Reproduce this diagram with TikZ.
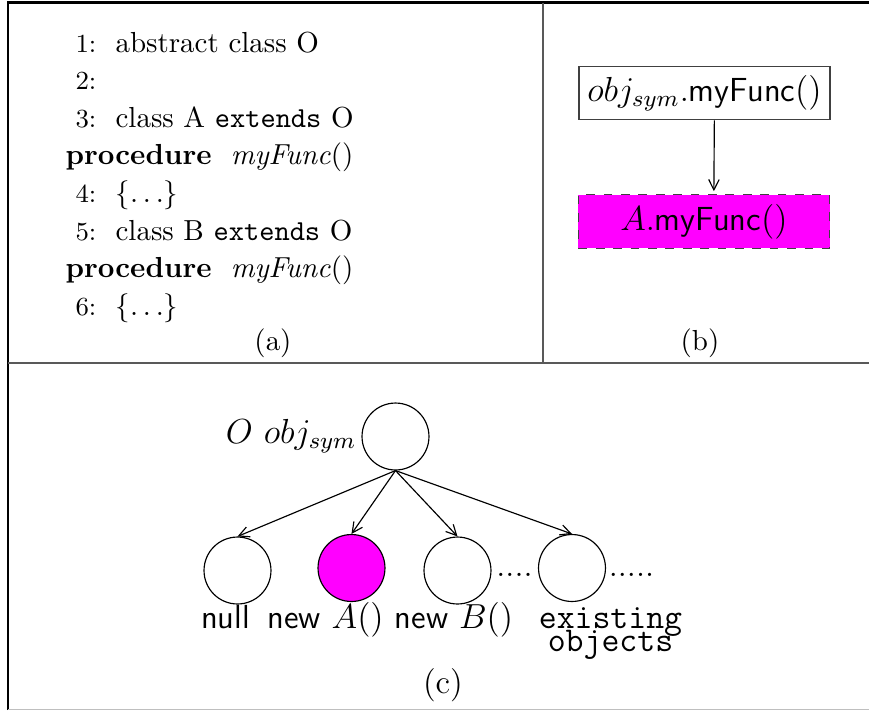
\documentclass[tikz,border=0pt]{standalone}
\usepackage{tikz}
\usetikzlibrary{arrows.meta}
\definecolor{hitmag}{RGB}{255,0,255}

\begin{document}
\begin{tikzpicture}[
        x=0.345pt,y=-0.345pt,
        frame/.style={draw,line width=0.7pt},
        rule/.style={draw,line width=0.6pt,black!65},
        lnum/.style={anchor=base east,inner sep=0pt,font=\small},
        codeln/.style={anchor=base west,inner sep=0pt},
        callbox/.style={draw=black!75,rectangle,minimum width=86.6pt,
                        minimum height=18.5pt,inner sep=0pt,
                        font=\fontsize{11.5}{13}\selectfont},
        implbox/.style={callbox,dashed,fill=hitmag},
        obj/.style={draw,circle,minimum size=23.1pt,inner sep=0pt},
        lbl/.style={anchor=base,inner sep=0pt,
                    font=\fontsize{11.5}{13}\selectfont},
        edge/.style={-{Straight Barb[length=3.6pt,width=3.6pt]},thin}
      ]
        \useasboundingbox (0,0) rectangle (869,710);
        % table rules
        \draw[frame](8,710)--(8,2.5)--(869,2.5);
        \draw[rule](8,363)--(869,363);
        \draw[rule](543,2.5)--(543,363);
        \draw[gray!50,line width=0.4pt](8,709.5)--(869,709.5);
        % (a)
        \node[lnum] (n1) at (97,52){1:};
        \node[codeln] (l1) at (115,52){abstract class O};
        \node[lnum] (n2) at (97,89.6){2:};
        \node[lnum] (n3) at (97,127.2){3:};
        \node[codeln] (l3) at (115,127.2){class A \texttt{extends} O};
        \node[codeln] (p3) at (65,164.8)
          {\textbf{procedure}\ \ \textit{myFunc}()};
        \node[lnum] (n4) at (97,202.4){4:};
        \node[codeln] (l4) at (115,202.4){$\{\ldots\}$};
        \node[lnum] (n5) at (97,240){5:};
        \node[codeln] (l5) at (115,240){class B \texttt{extends} O};
        \node[codeln] (p5) at (65,277.6)
          {\textbf{procedure}\ \ \textit{myFunc}()};
        \node[lnum] (n6) at (97,315.2){6:};
        \node[codeln] (l6) at (115,315.2){$\{\ldots\}$};
        \node[anchor=base] (capa) at (273,350){(a)};
        % (b)
        \node[callbox] (objcall) at (704.5,93)
          {$obj_{sym}$.\textsf{myFunc}$()$};
        \node[implbox] (impl) at (704,221.5){$A$.\textsf{myFunc}$()$};
        \draw[edge,shorten >=1pt]([xshift=3.4pt]objcall.south)
          --([xshift=3.4pt]impl.north);
        \node[anchor=base] (capb) at (700,350){(b)};
        % (c)
        \node[obj] (root) at (395.5,436.5){};
        \node[lbl,anchor=base east] (rootlbl) at (357,443){$O~obj_{sym}$};
        \node[obj] (cnull) at (237.5,570.5){};
        \node[obj,fill=hitmag] (cnewa) at (351.5,568){};
        \node[obj] (cnewb) at (457.5,570.5){};
        \node[obj] (cexist) at (572,568){};
        \foreach \c in {cnull,cnewa,cnewb,cexist}
          \draw[edge](root.south)--(\c.north);
        \node[lbl] (dotsa) at (514.5,576){....};
        \node[lbl] (dotsb) at (631.5,576){.....};
        \node[lbl] (tnull) at (225.6,628){\textsf{null}};
        \node[lbl] (tnewa) at (325.6,628){\textsf{new} $A()$};
        \node[lbl] (tnewb) at (454,628){\textsf{new} $B()$};
        \node[lbl,align=center,font=\fontsize{12}{14}\ttfamily]
          (texist) at (610.5,651){existing\\[-6.2pt]objects};
        \node[lbl] (capc) at (443,693){(c)};
      \end{tikzpicture}
\end{document}
